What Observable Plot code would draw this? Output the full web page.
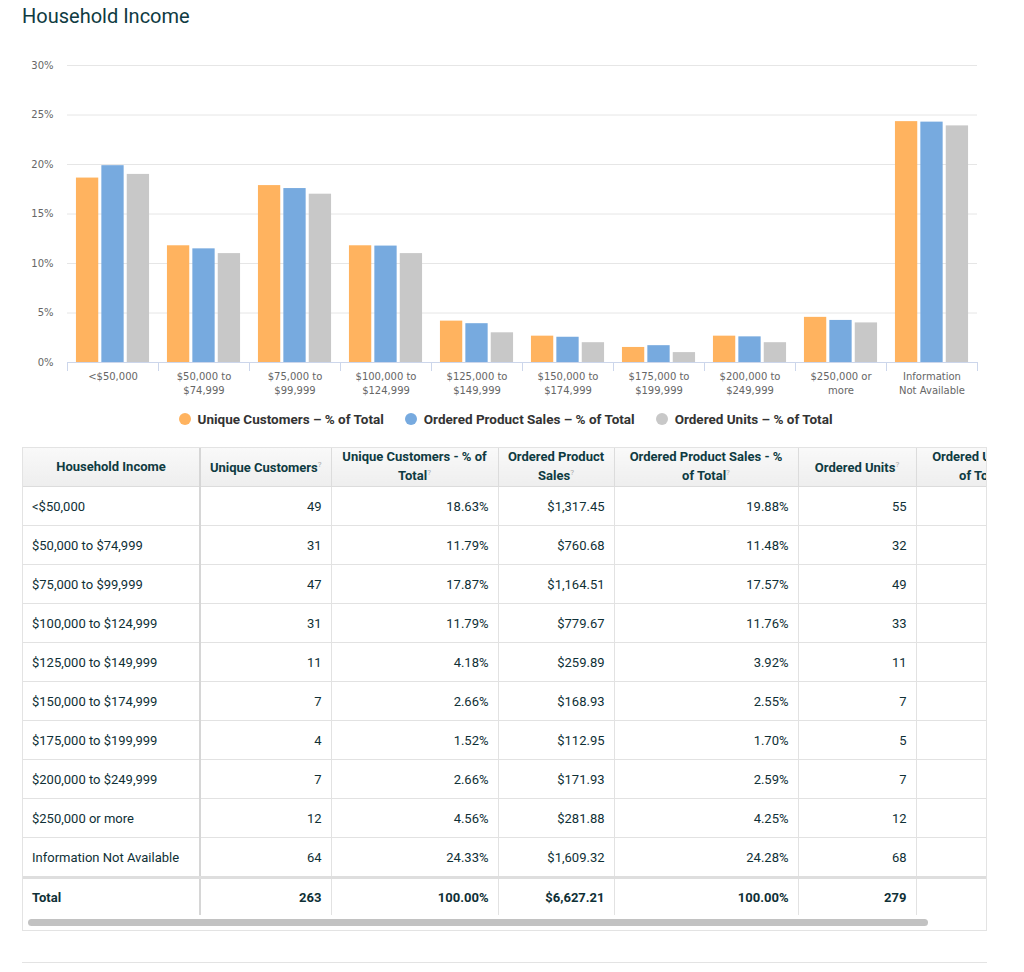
<!DOCTYPE html>
<html><head><meta charset="utf-8">
<script src="https://cdn.jsdelivr.net/npm/d3@7"></script>
<script src="https://cdn.jsdelivr.net/npm/@observablehq/plot@0.6"></script>
<style>
body{margin:0;background:#fff;font-family:Roboto,"Noto Sans",sans-serif;color:#0f3b42;}
#wrap{position:relative;width:1024px;height:972px;overflow:hidden;}
#title{position:absolute;left:22px;top:4px;font-size:20px;color:#0f3b42;}
#chart{position:absolute;left:0;top:45px;}
#legend{position:absolute;left:0;width:1011px;top:411px;height:16px;display:flex;justify-content:center;align-items:center;gap:21px;font-weight:bold;font-size:13.5px;color:#333;}
#legend .it{display:flex;align-items:center;gap:7px;white-space:nowrap;}
#legend .dot{width:12px;height:12px;border-radius:50%;display:inline-block;}
#tbl{position:absolute;left:22px;top:447px;width:963px;height:482px;border:1px solid #e3e3e3;overflow:hidden;}
table{border-collapse:collapse;table-layout:fixed;width:1027px;font-size:13px;color:#0f3036;}
th{background:linear-gradient(#f9f9f9,#eeeeee);font-weight:bold;height:38px;line-height:16px;padding:0 10px;text-align:center;border:1px solid #dcdcdc;border-top:none;color:#0f3b42;}
th:nth-child(2),th:nth-child(4){padding:0 3px;}
td{height:38px;padding:0 9px;border:1px solid #e2e2e2;text-align:right;}
td:first-child,th:first-child{border-left:none;border-right:2px solid #d6d6d6;}
td:first-child{text-align:left;}
tr.total td{font-weight:bold;border-top:3px solid #dedede;height:36px;border-bottom:none;}
sup{color:#aaa;font-size:8px;font-weight:normal;}
#scroll{position:absolute;left:5px;top:471px;width:900px;height:7px;border-radius:4px;background:#c2c2c2;}
#hr{position:absolute;left:22px;top:962px;width:965px;height:1px;background:#e3e3e3;}
</style></head>
<body>
<div id="wrap">
  <div id="title">Household Income</div>
  <div id="chart"></div>
  <div id="legend"></div>
  <div id="tbl"><table id="t"></table><div id="scroll"></div></div>
  <div id="hr"></div>
</div>
<script>
// ---- data ----
const categories = ["<$50,000","$50,000 to $74,999","$75,000 to $99,999","$100,000 to $124,999","$125,000 to $149,999","$150,000 to $174,999","$175,000 to $199,999","$200,000 to $249,999","$250,000 or more","Information Not Available"];
const tickLabels = ["<$50,000","$50,000 to\n$74,999","$75,000 to\n$99,999","$100,000 to\n$124,999","$125,000 to\n$149,999","$150,000 to\n$174,999","$175,000 to\n$199,999","$200,000 to\n$249,999","$250,000 or\nmore","Information\nNot Available"];
const yTicks = [0,5,10,15,20,25,30];
const seriesNames = ["Unique Customers – % of Total","Ordered Product Sales – % of Total","Ordered Units – % of Total"];
const uniqueCustomers = [49,31,47,31,11,7,4,7,12,64];
const uniqueCustomersPct = [18.63,11.79,17.87,11.79,4.18,2.66,1.52,2.66,4.56,24.33];
const orderedSales = [1317.45,760.68,1164.51,779.67,259.89,168.93,112.95,171.93,281.88,1609.32];
const orderedSalesPct = [19.88,11.48,17.57,11.76,3.92,2.55,1.70,2.59,4.25,24.28];
const orderedUnits = [55,32,49,33,11,7,5,7,12,68];
const orderedUnitsPct = [19.0,11.0,17.0,11.0,3.0,2.0,1.0,2.0,4.0,23.9];
const totals = {customers:263, customersPct:100, sales:6627.21, salesPct:100, units:279};
const tableHeaders = ["Household Income","Unique Customers","Unique Customers - % of Total","Ordered Product Sales","Ordered Product Sales - % of Total","Ordered Units","Ordered Units - % of Total"];

// ---- style ----
const colors = ["#ffb35f","#77aadf","#c8c8c8"];
const seriesValues = [uniqueCustomersPct, orderedSalesPct, orderedUnitsPct];
const bw = (1024-67-47)/categories.length;
const step = 25.4, barW = 22.3;
const inset = (bw - barW)/2;

const chart = Plot.plot({
  width:1024, height:355, marginLeft:67, marginRight:47, marginTop:20, marginBottom:38,
  style:{fontFamily:"'DejaVu Sans', sans-serif", background:"transparent", overflow:"visible"},
  x:{domain:categories, padding:0, axis:null},
  y:{domain:[0,30], axis:null},
  marks:[
    Plot.ruleY(yTicks, {y:d=>d, stroke:"#e6e6e6", strokeWidth:1}),
    ...seriesValues.map((vals,s)=>Plot.barY(categories, {x:d=>d, y:(d,i)=>vals[i], fill:colors[s], dx:(s-1)*step, insetLeft:inset, insetRight:inset})),
    Plot.ruleY([0], {stroke:"#ccd6eb"}),
    Plot.ruleX(categories, {x:d=>d, y1:0, y2:0, insetBottom:-9, dx:-bw/2, stroke:"#ccd6eb"}),
    Plot.ruleX(categories.slice(-1), {x:d=>d, y1:0, y2:0, insetBottom:-9, dx:bw/2, stroke:"#ccd6eb"}),
    Plot.text(yTicks, {y:d=>d, text:d=>d+"%", frameAnchor:"left", textAnchor:"end", dx:-14, fill:"#666", fontSize:10}),
    Plot.text(categories, {x:d=>d, text:(d,i)=>tickLabels[i], frameAnchor:"bottom", lineAnchor:"top", dy:8, fill:"#666", fontSize:10, lineHeight:1.4})
  ]
});
document.getElementById("chart").appendChild(chart);

// legend
const lg = document.getElementById("legend");
seriesNames.forEach((n,s)=>{
  const it = document.createElement("div"); it.className="it";
  it.innerHTML = `<span class="dot" style="background:${colors[s]}"></span><span>${n}</span>`;
  lg.appendChild(it);
});

// table
const money = v => "$" + d3.format(",.2f")(v);
const pct = v => v.toFixed(2) + "%";
const t = document.getElementById("t");
const widths = [177,131,167,116,184,118,134];
let html = "<colgroup>" + widths.map(w=>`<col style="width:${w}px">`).join("") + "</colgroup>";
html += "<thead><tr>" + tableHeaders.map((h,i)=> i===0 ? `<th>${h}</th>` : `<th>${h}<sup>?</sup></th>`).join("") + "</tr></thead><tbody>";
categories.forEach((c,i)=>{
  html += `<tr><td>${c.replace("<","&lt;")}</td><td>${uniqueCustomers[i]}</td><td>${pct(uniqueCustomersPct[i])}</td><td>${money(orderedSales[i])}</td><td>${pct(orderedSalesPct[i])}</td><td>${orderedUnits[i]}</td><td></td></tr>`;
});
html += `<tr class="total"><td>Total</td><td>${totals.customers}</td><td>${pct(totals.customersPct)}</td><td>${money(totals.sales)}</td><td>${pct(totals.salesPct)}</td><td>${totals.units}</td><td></td></tr>`;
html += "</tbody>";
t.innerHTML = html;
</script>
</body></html>
